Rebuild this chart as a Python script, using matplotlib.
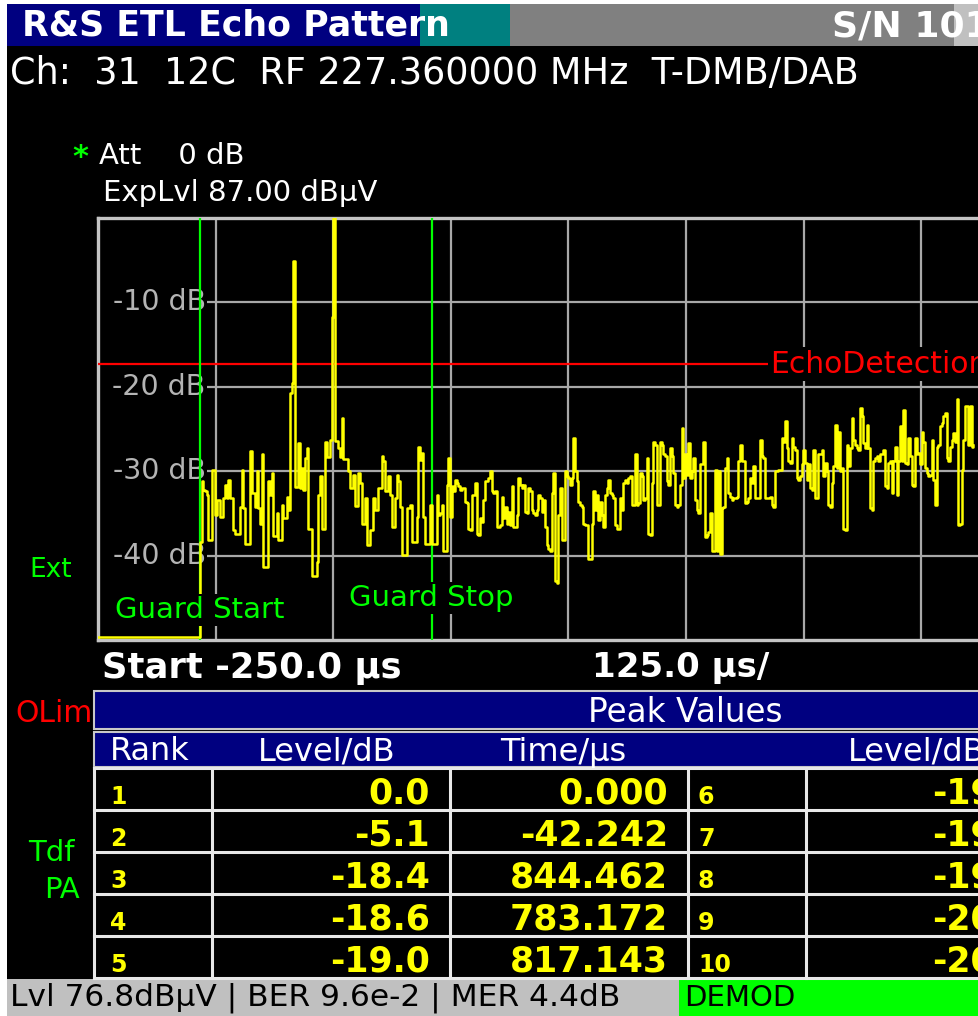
import numpy as np
import matplotlib.pyplot as plt
from matplotlib.patches import Rectangle

plt.rcParams['font.family'] = ['DejaVu Sans']

# header / status texts
title = 'R&S ETL Echo Pattern'
serial = 'S/N 101'
channel_info = 'Ch:  31  12C  RF 227.360000 MHz  T-DMB/DAB'
att_text = 'Att    0 dB'
explvl_text = 'ExpLvl 87.00 dBµV'
status_text = 'Lvl 76.8dBµV | BER 9.6e-2 | MER 4.4dB'
demod_text = 'DEMOD'

# sweep setup
start_us = -250.0
div_us = 125.0
n_div = 10
ref_db = 0.0
bottom_db = -50.0
grid_db = [-10, -20, -30, -40]
guard_start_us = -141.6
guard_stop_us = 105.0
echo_threshold_db = -17.3

# echo trace, one value per bin
floor_db = -49.6
trace_start_us = -141.6
trace_step_us = 1.7715
trace_db = [
    -38.4, -31.2, -32.2, -32.4, -32.8, -38.2, -38.2, -29.8, -29.8, -35.2,
    -33.4, -33.4, -35.4, -35.4, -33.2, -31.6, -33.2, -31.0, -33.2, -33.2,
    -37.0, -37.4, -37.4, -37.4, -34.2, -29.8, -34.4, -38.6, -38.6, -38.6,
    -27.6, -32.6, -32.6, -34.2, -30.0, -34.4, -36.2, -28.0, -41.4, -41.4,
    -41.4, -31.2, -32.8, -30.2, -37.7, -37.7, -35.0, -38.1, -38.1, -34.0,
    -35.5, -35.5, -33.0, -34.6, -20.7, -19.5, -5.1, -31.9, -31.9, -26.7,
    -32.0, -29.6, -32.2, -28.4, -27.3, -36.8, -36.8, -42.4, -42.4, -42.4,
    -40.8, -32.8, -30.6, -36.8, -36.8, -26.5, -28.3, -28.3, -26.3, -11.7,
    0.0, -26.4, -26.4, -27.3, -28.3, -23.7, -28.6, -28.6, -28.6, -30.0,
    -32.0, -32.0, -30.4, -34.1, -34.1, -30.2, -31.4, -36.3, -36.3, -33.2,
    -38.7, -38.7, -37.0, -37.0, -33.2, -34.6, -34.6, -32.0, -32.0, -28.2,
    -28.8, -32.4, -32.4, -30.6, -32.8,
    -36.6, -36.6, -33.2, -30.4, -31.2, -34.2, -39.9, -39.9, -39.9, -34.4,
    -34.4, -34.0, -38.4, -38.4, -38.4, -35.4, -27.1, -28.7, -27.9, -35.4,
    -38.6, -38.6, -38.6, -34.0, -38.6, -38.6, -38.6, -32.8, -35.2, -35.0,
    -34.0, -39.4, -39.4, -31.6, -28.4, -35.4, -31.8, -32.4, -31.0, -31.4,
    -31.8, -32.2, -32.0, -32.0, -33.6, -33.8, -36.8, -37.0, -32.8, -32.8,
    -31.4, -37.4, -37.6, -35.6, -36.0, -33.4, -31.2, -31.2, -30.8, -30.0,
    -32.4, -32.6, -32.4, -36.6, -36.6, -36.4, -33.0, -35.6, -34.2, -36.2,
    -34.8, -36.4, -31.8, -36.6, -36.6, -35.2, -30.8, -31.6, -32.0, -31.6,
    -34.8, -35.0, -32.0, -32.4, -34.6, -35.0, -35.2, -34.6, -32.8, -33.2,
    -34.8, -33.4, -36.6, -38.8, -39.2, -39.4, -32.6, -30.2, -43.0, -43.2,
    -35.2, -32.0, -38.2, -38.2, -30.0, -30.6, -30.8, -31.6, -30.8, -26.1,
    -30.0, -31.2, -33.6, -34.0,
    -34.2, -36.2, -36.4, -36.4, -40.4, -40.4, -36.2, -32.4, -34.6, -32.8,
    -35.8, -33.6, -35.2, -36.6, -32.8, -32.0, -31.0, -32.6, -32.8, -33.2,
    -36.4, -36.8, -36.8, -33.2, -34.6, -31.4, -31.0, -31.4, -30.8, -30.6,
    -34.0, -34.0, -28.0, -34.0, -33.8, -30.2, -30.6, -33.4, -33.2, -28.4,
    -37.4, -37.6, -31.4, -26.5, -26.9, -34.0, -34.0, -26.5, -26.9, -28.0,
    -28.2, -31.2, -31.6, -27.3, -28.2, -30.2, -34.0, -34.2, -34.0, -31.6,
    -24.9, -30.8, -28.0, -30.4, -26.7, -30.8, -30.0, -28.4, -33.4, -34.6,
    -35.0, -29.2, -29.2, -26.5, -37.8, -37.6, -37.2, -35.0, -39.4, -39.4,
    -29.8, -39.4, -30.0, -39.8, -34.4, -34.2, -29.6, -28.4, -32.6, -33.0,
    -33.4, -33.2, -33.2, -33.0, -28.8, -26.9, -28.8, -28.8, -33.8, -33.6,
    -33.2, -30.8, -31.4, -29.4, -33.2, -33.2, -33.2, -26.3, -28.2, -28.4,
    -33.2, -33.2, -33.2, -33.0,
    -34.0, -34.2, -30.0, -30.0, -29.8, -29.8, -26.1, -26.5, -24.1, -27.3,
    -28.8, -29.0, -26.1, -27.1, -27.5, -30.8, -31.0, -30.6, -29.2, -27.5,
    -29.0, -31.0, -29.2, -32.0, -32.2, -27.5, -33.2, -33.2, -28.0, -28.0,
    -27.5, -30.6, -29.0, -30.0, -34.0, -34.2, -31.4, -29.4, -24.5, -29.6,
    -25.3, -30.0, -29.6, -36.8, -37.0, -26.9, -29.4, -27.3, -23.7, -26.3,
    -26.9, -27.3, -27.5, -22.5, -23.5, -26.7, -27.3, -24.5, -27.3, -34.4,
    -34.6, -28.8, -28.4, -28.2, -28.8, -28.0, -28.0, -27.5, -31.8, -32.0,
    -29.0, -28.8, -32.6, -28.8, -27.1, -32.8, -28.8, -24.7, -28.8, -22.7,
    -29.0, -29.2, -26.1, -28.2, -31.6, -31.8, -26.1, -28.0, -27.9, -29.2,
    -25.3, -26.5, -29.6, -30.2, -30.6, -30.4, -26.3, -31.0, -34.0, -27.1,
    -26.9, -24.7, -24.3, -23.5, -23.1, -28.4, -28.8, -27.1, -26.3, -25.5,
    -26.5, -21.5, -36.4, -36.2, -29.8, -26.3, -22.3, -22.3, -26.9, -22.3,
    -27.1, -26.9,
]

# peak table
rank_a = [1, 2, 3, 4, 5]
level_a = [0.0, -5.1, -18.4, -18.6, -19.0]
time_a = [0.000, -42.242, 844.462, 783.172, 817.143]
rank_b = [6, 7, 8, 9, 10]
level_b = [-19.1, -19.4, -19.8, -20.2, -20.5]

W, H = 979, 1016
BLUE = '#000080'
YEL = '#ffff00'
GRN = '#00ff00'
RED = '#ff0000'
GRID = '#a8a8a8'

fig = plt.figure(figsize=(W / 100, H / 100), dpi=100, facecolor='white')

bg = fig.add_axes([0, 0, 1, 1], zorder=0)
bg.set_xlim(0, W)
bg.set_ylim(H, 0)
bg.axis('off')

def box(a, x0, y0, x1, y1, fc, ec='none', lw=0):
    a.add_patch(Rectangle((x0, y0), x1 - x0, y1 - y0, facecolor=fc, edgecolor=ec, linewidth=lw))

# screen chrome
box(bg, 7, 4, W, H, 'black')
box(bg, 7, 4, 420, 46, BLUE)
box(bg, 420, 4, 510, 46, '#008080')
box(bg, 510, 4, 954, 46, '#808080')
box(bg, 954, 4, W, 46, '#c0c0c0')
bg.text(22, 26, title, color='white', fontsize=25, fontweight='bold', va='center')
bg.text(832, 26, serial, color='white', fontsize=26, fontweight='bold', va='center')
bg.text(10, 74, channel_info, color='white', fontsize=26.4, va='center')
bg.text(72, 157, '*', color=GRN, fontsize=22, fontweight='bold', va='center')
bg.text(99, 156, att_text, color='white', fontsize=21, va='center')
bg.text(103, 193, explvl_text, color='white', fontsize=21, va='center')
bg.text(29, 570, 'Ext', color=GRN, fontsize=19, va='center')
bg.text(102, 668, 'Start %.1f µs' % start_us, color='white', fontsize=25.5, fontweight='bold', va='center')
bg.text(592, 668, '%.1f µs/' % div_us, color='white', fontsize=24.5, fontweight='bold', va='center')
bg.text(15, 714, 'OLim', color=RED, fontsize=21.5, va='center')
bg.text(28, 853, 'Tdf', color=GRN, fontsize=21, va='center')
bg.text(44, 890, 'PA', color=GRN, fontsize=21, va='center')

# status bar
box(bg, 7, 979, 679, H, '#c0c0c0')
box(bg, 679, 979, W, H, GRN)
bg.text(10, 998, status_text, color='black', fontsize=22.5, va='center')
bg.text(684, 998, demod_text, color='black', fontsize=21, va='center')

# peak table
box(bg, 94, 691, W + 5, 729, BLUE, '#c8c8c8', 1.5)
box(bg, 94, 732, W + 5, 767, BLUE, '#c8c8c8', 1.5)
bg.text(685, 712, 'Peak Values', color='white', fontsize=23.5, ha='center', va='center')
for x, s in zip([110, 258, 500, 848], ['Rank', 'Level/dB', 'Time/µs', 'Level/dB']):
    bg.text(x, 752, s, color='white', fontsize=23, va='center')
row_top = 768
row_h = 42
col_x = [94, 212, 450, 688, 806, 1044]
for i in range(len(rank_a) + 1):
    bg.plot([94, W + 5], [row_top + i * row_h] * 2, color='#e8e8e8', lw=2.2)
for x in col_x:
    bg.plot([x, x], [row_top, row_top + len(rank_a) * row_h], color='#e8e8e8', lw=2.2)
for i in range(len(rank_a)):
    yb = row_top + i * row_h + 36
    bg.text(110, yb, str(rank_a[i]), color=YEL, fontsize=17, fontweight='bold', va='baseline')
    bg.text(430, yb, '%.1f' % level_a[i], color=YEL, fontsize=25, fontweight='bold', ha='right', va='baseline')
    bg.text(668, yb, '%.3f' % time_a[i], color=YEL, fontsize=25, fontweight='bold', ha='right', va='baseline')
    bg.text(698, yb, str(rank_b[i]), color=YEL, fontsize=17, fontweight='bold', va='baseline')
    bg.text(1032, yb, '%.1f' % level_b[i], color=YEL, fontsize=25, fontweight='bold', ha='right', va='baseline')

# echo pattern diagram
ax = fig.add_axes([98 / W, 1 - 640 / H, 1176 / W, 422 / H], zorder=1)
ax.set_facecolor('black')
x_end = start_us + n_div * div_us
ax.set_xlim(start_us, x_end)
ax.set_ylim(bottom_db, ref_db)
ax.set_xticks([])
ax.set_yticks([])
for sp in ax.spines.values():
    sp.set_color('#c4c4c4')
    sp.set_linewidth(2.4)

ax.vlines(start_us + div_us * np.arange(1, n_div), bottom_db, ref_db, color=GRID, lw=1.6, zorder=1)
ax.hlines(grid_db, -134.6, x_end, color=GRID, lw=1.6, zorder=1)
for g in grid_db:
    ax.text(-135.5, g, '%d dB' % g, color='#b4b4b4', fontsize=20.5, ha='right', va='center', zorder=2)

ax.axhline(echo_threshold_db, color=RED, lw=1.6, zorder=3)
ax.axvline(guard_start_us, color=GRN, lw=1.6, zorder=3)
ax.axvline(guard_stop_us, color=GRN, lw=1.6, zorder=3)

t = trace_start_us + trace_step_us * np.arange(len(trace_db))
ax.step(np.r_[start_us, t], np.r_[floor_db, trace_db], where='post', color=YEL, lw=1.8, zorder=4)

blk = dict(facecolor='black', edgecolor='none', pad=1.5)
ax.text(464, echo_threshold_db, 'EchoDetection', color=RED, fontsize=21.5, va='center', bbox=blk, zorder=5)
ax.text(-232, -46.4, 'Guard Start', color=GRN, fontsize=21, va='center', bbox=blk, zorder=5)
ax.text(16.8, -45.0, 'Guard Stop', color=GRN, fontsize=21, va='center', bbox=blk, zorder=5)

fig.savefig('out.png', dpi=100, facecolor='white')
